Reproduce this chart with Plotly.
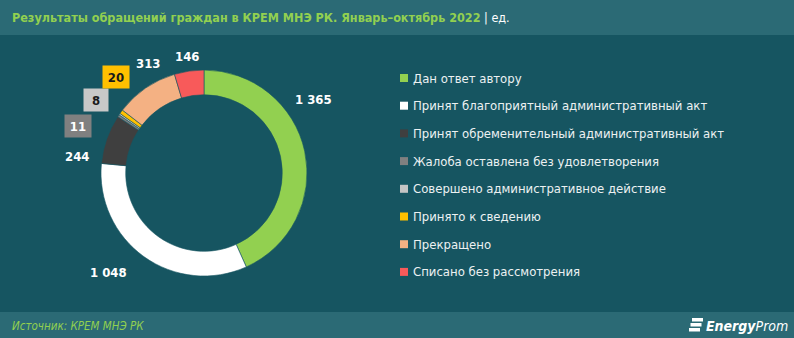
import plotly.graph_objects as go

W, H = 794, 338

categories = [
    "Дан ответ автору",
    "Принят благоприятный административный акт",
    "Принят обременительный административный акт",
    "Жалоба оставлена без удовлетворения",
    "Совершено административное действие",
    "Принято к сведению",
    "Прекращено",
    "Списано без рассмотрения",
]
values = [1365, 1048, 244, 11, 8, 20, 313, 146]
colors = ["#92d050", "#ffffff", "#3f3f3f", "#808080", "#c4c4c4", "#ffc000", "#f4b183", "#f85a5a"]

BG = "#165561"
BAND = "#2b6a75"
GREEN_TXT = "#92d050"
FONT = "DejaVu Sans Condensed, Open Sans, sans-serif"


def px(x, y):
    """pixel position -> paper coordinates"""
    return x / W, 1 - y / H


def fmt(v):
    return f"{v:,}".replace(",", " ")


fig = go.Figure()

# donut
cx, cy, R = 204, 173, 103
x0, y1 = px(cx - R, cy - R)
x1, y0 = px(cx + R, cy + R)
fig.add_trace(go.Pie(
    labels=categories,
    values=values,
    marker=dict(colors=colors, line=dict(color=BG, width=0.6)),
    hole=0.76,
    sort=False,
    direction="clockwise",
    rotation=0,
    textinfo="none",
    hoverinfo="label+value",
    showlegend=False,
    domain=dict(x=[x0, x1], y=[y0, y1]),
))

shapes = []
annotations = []

# header and footer bands
shapes.append(dict(type="rect", xref="paper", yref="paper", x0=0, x1=1,
                   y0=1 - 35 / H, y1=1, fillcolor=BAND, line=dict(width=0), layer="below"))
shapes.append(dict(type="rect", xref="paper", yref="paper", x0=0, x1=1,
                   y0=0, y1=1 - 312 / H, fillcolor=BAND, line=dict(width=0), layer="below"))

# title
tx, ty = px(10, 17)
annotations.append(dict(
    x=tx, y=ty, xref="paper", yref="paper", xanchor="left", yanchor="middle",
    text=f"<b><span style='color:{GREEN_TXT}'>Результаты обращений граждан в КРЕМ МНЭ РК. Январь–октябрь 2022</span></b>"
         "<span style='color:#ffffff'> | ед.</span>",
    showarrow=False, font=dict(family=FONT, size=12.5, color="#ffffff"),
))

# source
sx, sy = px(10, 326)
annotations.append(dict(
    x=sx, y=sy, xref="paper", yref="paper", xanchor="left", yanchor="middle",
    text="<i>Источник: КРЕМ МНЭ РК</i>", showarrow=False,
    font=dict(family=FONT, size=11.5, color=GREEN_TXT),
))

# brand mark
lx, ly = px(790, 326)
annotations.append(dict(
    x=lx, y=ly, xref="paper", yref="paper", xanchor="right", yanchor="middle",
    text="<b><i>Energy</i></b><i>Prom</i>", showarrow=False,
    font=dict(family=FONT, size=14, color="#ffffff"),
))
for i in range(3):
    ya = 318 + i * 5
    bx0, by0 = px(692 - i * 1.5, ya)
    bx1, by1 = px(703 - i * 1.5, ya + 3.5)
    shapes.append(dict(type="rect", xref="paper", yref="paper", x0=bx0, x1=bx1,
                       y0=by1, y1=by0, fillcolor="#ffffff", line=dict(width=0)))

# value labels around the ring
label_pos = [(313, 99), (108, 272), (77, 156), (78, 126), (96, 100), (116, 77), (148, 64), (187, 57)]
boxed = {3: ("#808080", "#ffffff"), 4: ("#c8c8c8", "#1a1a1a"), 5: ("#ffc000", "#1a1a1a")}
for i, (v, (lxp, lyp)) in enumerate(zip(values, label_pos)):
    ax, ay = px(lxp, lyp)
    if i in boxed:
        bg, fc = boxed[i]
        annotations.append(dict(
            x=ax, y=ay, xref="paper", yref="paper", xanchor="center", yanchor="middle",
            text=f"<b>{fmt(v)}</b>", showarrow=False, bgcolor=bg, borderpad=3,
            width=18 if v < 10 else 20, height=16,
            font=dict(family=FONT, size=13, color=fc),
        ))
    else:
        annotations.append(dict(
            x=ax, y=ay, xref="paper", yref="paper", xanchor="center", yanchor="middle",
            text=f"<b>{fmt(v)}</b>", showarrow=False,
            font=dict(family=FONT, size=13, color="#ffffff"),
        ))

# legend
for i, (name, c) in enumerate(zip(categories, colors)):
    yrow = 78 + i * 27.7
    mx0, my0 = px(400, yrow - 4)
    mx1, my1 = px(408, yrow + 4)
    shapes.append(dict(type="rect", xref="paper", yref="paper", x0=mx0, x1=mx1,
                       y0=my1, y1=my0, fillcolor=c, line=dict(width=0)))
    nx, ny = px(411, yrow)
    annotations.append(dict(
        x=nx, y=ny, xref="paper", yref="paper", xanchor="left", yanchor="middle",
        text=name, showarrow=False,
        font=dict(family=FONT, size=13, color="#ecf1f2"),
    ))

fig.update_layout(
    width=W, height=H,
    margin=dict(l=0, r=0, t=0, b=0),
    paper_bgcolor=BG, plot_bgcolor=BG,
    shapes=shapes, annotations=annotations,
    showlegend=False,
)

fig.write_html("out.html")
